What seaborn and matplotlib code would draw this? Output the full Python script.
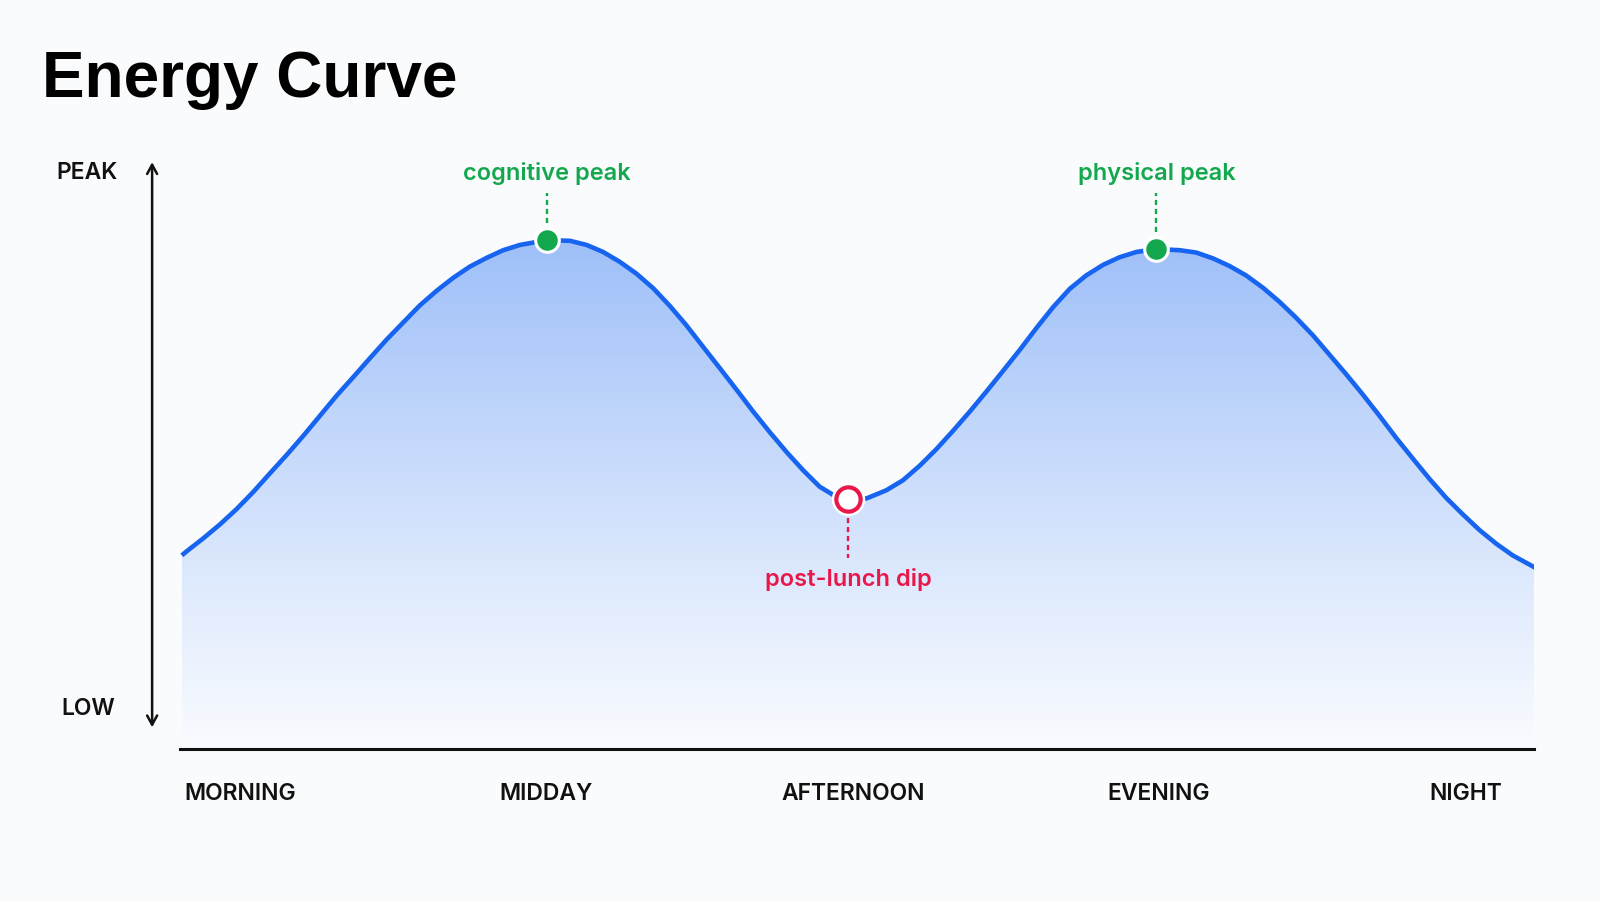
import numpy as np
import pandas as pd
import matplotlib
matplotlib.use("Agg")
import matplotlib.pyplot as plt
import seaborn as sns
from matplotlib.colors import LinearSegmentedColormap

sns.set_theme(style="white")
plt.rcParams['font.family'] = ['Inter', 'DejaVu Sans']

# energy curve (x in time-of-day slots, y on a 0-100 LOW..PEAK scale)
curve_x = [-0.190, -0.174, -0.120, -0.065, -0.011, 0.043, 0.098, 0.152, 0.207, 0.261,
           0.315, 0.370, 0.424, 0.479, 0.533, 0.587, 0.642, 0.696, 0.750, 0.805,
           0.859, 0.914, 0.968, 1.001, 1.077, 1.131, 1.185, 1.240, 1.294, 1.349,
           1.403, 1.457, 1.512, 1.566, 1.621, 1.675, 1.729, 1.784, 1.838, 1.892,
           1.936, 1.985, 2.045, 2.110, 2.164, 2.219, 2.273, 2.327, 2.382, 2.436,
           2.490, 2.545, 2.599, 2.654, 2.708, 2.762, 2.817, 2.871, 2.926, 2.991,
           3.067, 3.121, 3.176, 3.230, 3.284, 3.339, 3.393, 3.447, 3.502, 3.556,
           3.610, 3.665, 3.719, 3.774, 3.828, 3.883, 3.937, 3.991, 4.046, 4.100,
           4.154, 4.231]
curve_y = [33.0, 33.7, 35.9, 38.3, 40.9, 43.8, 47.0, 50.1, 53.4, 56.8,
           60.2, 63.4, 66.6, 69.8, 72.7, 75.6, 78.1, 80.3, 82.2, 83.7,
           85.0, 85.9, 86.4, 86.7, 86.6, 85.9, 84.7, 83.0, 81.0, 78.5,
           75.5, 72.2, 68.5, 64.9, 61.2, 57.5, 54.0, 50.6, 47.5, 44.7,
           43.3, 42.6, 42.7, 44.1, 45.8, 48.3, 51.1, 54.2, 57.5, 60.9,
           64.4, 68.0, 71.7, 75.3, 78.4, 80.7, 82.5, 83.8, 84.7, 85.2,
           85.0, 84.6, 83.6, 82.3, 80.7, 78.6, 76.2, 73.5, 70.5, 67.2,
           63.9, 60.4, 56.8, 53.0, 49.5, 46.0, 42.8, 40.0, 37.3, 35.0,
           33.0, 30.8]

time_labels = ["MORNING", "MIDDAY", "AFTERNOON", "EVENING", "NIGHT"]

peak_names = ["cognitive peak", "physical peak"]
peak_x = [1.001, 2.991]
peak_y = [86.7, 85.2]
dip_name = "post-lunch dip"
dip_x = 1.985
dip_y = 42.6

BG = "#fafbfc"
BLUE = "#1764f0"
GREEN = "#14a84e"
RED = "#e8194a"
INK = "#111111"

df = pd.DataFrame({"slot": curve_x, "energy": curve_y})

fig = plt.figure(figsize=(16, 9.01), dpi=100, facecolor=BG)
ax = fig.add_axes([0.1125, 0.1687, 0.959 - 0.1125, 0.820 - 0.1687])
ax.set_facecolor(BG)

# gradient fill under the curve
fill = ax.fill_between(df["slot"], 0, df["energy"], color="none", lw=0)
cmap = LinearSegmentedColormap.from_list("fade", [(0.975, 0.985, 1.0), (0.62, 0.75, 0.975)])
grad = np.linspace(0, 1, 256).reshape(-1, 1) ** 1.1
img = ax.imshow(grad, cmap=cmap, origin="lower", aspect="auto",
                extent=[df["slot"].min(), df["slot"].max(), 0, max(curve_y)], zorder=1)
img.set_clip_path(fill.get_paths()[0], transform=ax.transData)
ax.set_xlim(-0.196, 4.225)
ax.set_ylim(0, 100)

sns.lineplot(data=df, x="slot", y="energy", ax=ax, color=BLUE, lw=3.3, zorder=3,
             sort=False, solid_joinstyle="round", solid_capstyle="butt")

# markers
ax.plot(peak_x, peak_y, "o", ms=17, mfc=GREEN, mec="white", mew=2.2, zorder=5, clip_on=False)
ax.plot(dip_x, dip_y, "o", ms=24, mfc="white", mec="none", zorder=5)
ax.plot(dip_x, dip_y, "o", ms=17.5, mfc="white", mec=RED, mew=3, zorder=6)

# dashed leaders and labels
for name, px, py in zip(peak_names, peak_x, peak_y):
    ax.plot([px, px], [py + 2.9, 94.7], color=GREEN, lw=1.7, ls=(0, (2.2, 1.6)),
            zorder=4, clip_on=False)
    ax.text(px, 98.1, name, color=GREEN, fontsize=17, fontweight="semibold",
            ha="center", va="center", clip_on=False)
ax.plot([dip_x, dip_x], [dip_y - 3.2, dip_y - 10.1], color=RED, lw=1.7, ls=(0, (2.2, 1.6)),
        zorder=4)
ax.text(dip_x, 28.8, dip_name, color=RED, fontsize=17, fontweight="semibold",
        ha="center", va="center")

# axes styling
sns.despine(ax=ax, left=True, top=True, right=True)
ax.spines["bottom"].set_color(INK)
ax.spines["bottom"].set_linewidth(2.2)
ax.set_yticks([])
ax.set_xticks(range(len(time_labels)))
ax.set_xticklabels(time_labels, fontsize=16.5, fontweight="semibold", color=INK)
ax.tick_params(axis="x", direction="inout", length=12, width=1.6, color=INK, pad=18.5)
ax.set_xlabel("")
ax.set_ylabel("")

# LOW/PEAK arrow
ax.annotate("", xy=(-0.287, 100), xytext=(-0.287, 3.7), xycoords="data",
            arrowprops=dict(arrowstyle="<->,head_length=0.55,head_width=0.3",
                            color=INK, lw=1.8, shrinkA=0, shrinkB=0),
            annotation_clip=False)
ax.text(-0.500, 98.1, "PEAK", fontsize=16.5, fontweight="semibold", color=INK,
        ha="center", va="center", clip_on=False)
ax.text(-0.497, 6.8, "LOW", fontsize=16.5, fontweight="semibold", color=INK,
        ha="center", va="center", clip_on=False)

fig.text(42 / 1600, 1 - 97 / 901, "Energy Curve", fontsize=46, fontweight="bold",
         family=["Liberation Sans", "DejaVu Sans"], color="#000000",
         ha="left", va="baseline")

fig.savefig("out.png", dpi=100, facecolor=BG)
